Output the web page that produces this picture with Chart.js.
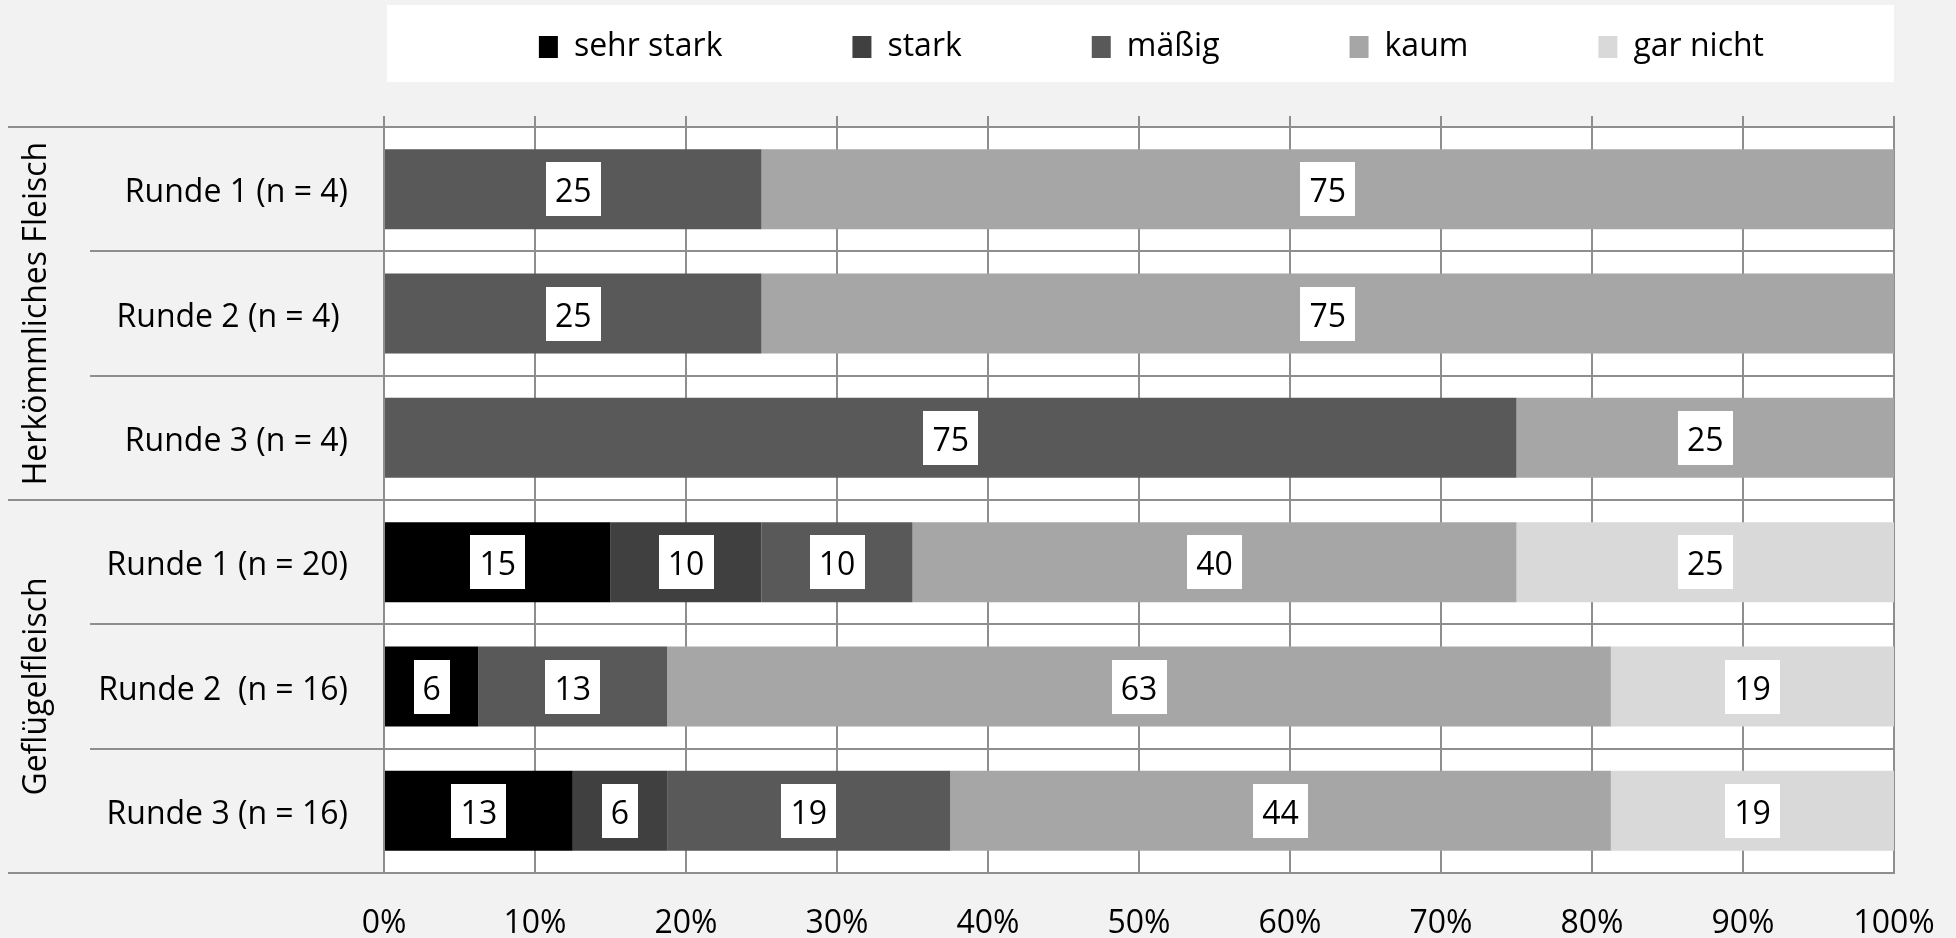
<!DOCTYPE html>
<html>
<head>
<meta charset="utf-8">
<script src="https://cdn.jsdelivr.net/npm/chart.js@4/dist/chart.umd.min.js"></script>
<style>
html,body{margin:0;padding:0;background:#f2f2f2;overflow:hidden}
canvas{display:block}
</style>
</head>
<body>
<canvas id="c" width="1956" height="938"></canvas>
<script>
// ---- data ----
const categories = ['Runde 1 (n = 4)', 'Runde 2 (n = 4) ', 'Runde 3 (n = 4)', 'Runde 1 (n = 20)', 'Runde 2  (n = 16)', 'Runde 3 (n = 16)'];
const groupLabels = ['Herkömmliches Fleisch', 'Geflügelfleisch'];
const groupSizes = [3, 3];
const seriesNames = ['sehr stark', 'stark', 'mäßig', 'kaum', 'gar nicht'];
const sehrStark = [null, null, null, 15, 6.25, 12.5];
const stark = [null, null, null, 10, null, 6.25];
const maessig = [25, 25, 75, 10, 12.5, 18.75];
const kaum = [75, 75, 25, 40, 62.5, 43.75];
const garNicht = [null, null, null, 25, 18.75, 18.75];
const seriesColors = ['#000000', '#404040', '#595959', '#a6a6a6', '#d9d9d9'];
const tickSuffix = '%';

// ---- styling ----
const FAMILY = '"Open Sans", "Noto Sans", sans-serif';
const GRID = '#8e8e8e';
Chart.defaults.font.family = FAMILY;
Chart.defaults.color = '#000';

const bgPlugin = {
  id: 'bg',
  beforeDraw(chart) {
    const {ctx, chartArea: a, width, height} = chart;
    ctx.save();
    ctx.fillStyle = '#f2f2f2';
    ctx.fillRect(0, 0, width, height);
    ctx.fillStyle = '#ffffff';
    ctx.fillRect(a.left + 3, 5, a.right - a.left - 3, 77);
    ctx.fillRect(a.left, a.top, a.right - a.left, a.bottom - a.top);
    ctx.restore();
  }
};

const labelPlugin = {
  id: 'vals',
  afterDatasetsDraw(chart) {
    const ctx = chart.ctx;
    ctx.save();
    ctx.font = '32px ' + FAMILY;
    ctx.textAlign = 'center';
    ctx.textBaseline = 'middle';
    chart.data.datasets.forEach((ds, i) => {
      const meta = chart.getDatasetMeta(i);
      if (meta.hidden) return;
      meta.data.forEach((bar, j) => {
        const v = ds.data[j];
        if (v == null) return;
        const {x, y, base} = bar.getProps(['x', 'y', 'base'], true);
        const cx = (x + base) / 2;
        const txt = String(Math.round(v));
        const w = Math.round(ctx.measureText(txt).width + 18);
        const h = 54;
        ctx.fillStyle = '#ffffff';
        ctx.fillRect(Math.round(cx - w / 2), Math.round(y - h / 2), w, h);
        ctx.fillStyle = '#000000';
        ctx.fillText(txt, cx, y + 4);
      });
    });
    ctx.restore();
  }
};

const groupPlugin = {
  id: 'groups',
  afterDraw(chart) {
    const ys = chart.scales.y, a = chart.chartArea, ctx = chart.ctx;
    const n = categories.length;
    const edge = i => i === 0 ? a.top : i === n ? a.bottom : (ys.getPixelForTick(i - 1) + ys.getPixelForTick(i)) / 2;
    const bounds = [0];
    let s = 0;
    groupSizes.forEach(g => { s += g; bounds.push(s); });
    ctx.save();
    ctx.strokeStyle = GRID;
    ctx.lineWidth = 2;
    bounds.forEach(b => {
      const yy = Math.round(edge(b));
      ctx.beginPath();
      ctx.moveTo(8, yy);
      ctx.lineTo(ys.right - 294, yy);
      ctx.stroke();
    });
    ctx.font = '32px ' + FAMILY;
    ctx.fillStyle = '#000';
    ctx.textAlign = 'center';
    ctx.textBaseline = 'alphabetic';
    groupLabels.forEach((lab, g) => {
      const cy = (edge(bounds[g]) + edge(bounds[g + 1])) / 2;
      ctx.save();
      ctx.translate(46, cy);
      ctx.rotate(-Math.PI / 2);
      ctx.fillText(lab, 0, 0);
      ctx.restore();
    });
    ctx.restore();
  }
};

const seriesData = [sehrStark, stark, maessig, kaum, garNicht];

new Chart(document.getElementById('c'), {
  type: 'bar',
  data: {
    labels: categories,
    datasets: seriesNames.map((name, i) => ({
      label: name,
      data: seriesData[i],
      backgroundColor: seriesColors[i],
      borderWidth: 0
    }))
  },
  options: {
    indexAxis: 'y',
    responsive: false,
    animation: false,
    layout: {padding: {top: -99, right: 62, left: 0, bottom: 0}},
    datasets: {bar: {categoryPercentage: 0.643, barPercentage: 1}},
    plugins: {
      tooltip: {enabled: false},
      legend: {
        position: 'top',
        align: 'end',
        labels: {
          font: {family: FAMILY, size: 32},
          color: '#000',
          boxWidth: 19,
          boxHeight: 22,
          padding: 130
        }
      }
    },
    scales: {
      x: {
        stacked: true,
        min: 0,
        max: 100,
        position: 'bottom',
        ticks: {stepSize: 10, callback: v => v + tickSuffix, font: {family: FAMILY, size: 32}, color: '#000', padding: 0, maxRotation: 0},
        grid: {color: GRID, lineWidth: 2, drawTicks: true, tickLength: 32, tickColor: 'rgba(0,0,0,0)'},
        border: {color: GRID, width: 2},
        afterFit: sc => { sc.height = 65; }
      },
      xTop: {
        type: 'linear',
        axis: 'x',
        position: 'top',
        min: 0,
        max: 100,
        ticks: {display: false, stepSize: 10},
        grid: {drawOnChartArea: false, drawTicks: true, tickLength: 11, color: GRID, lineWidth: 2},
        border: {display: false},
        afterFit: sc => { sc.height = 54; }
      },
      y: {
        stacked: true,
        ticks: {font: {family: FAMILY, size: 32}, color: '#000', padding: -258, autoSkip: false, labelOffset: 4},
        grid: {color: GRID, lineWidth: 2, tickLength: 294, offset: true},
        border: {color: GRID, width: 2},
        afterFit: sc => { sc.width = 384; }
      }
    }
  },
  plugins: [bgPlugin, labelPlugin, groupPlugin]
});
</script>
</body>
</html>
